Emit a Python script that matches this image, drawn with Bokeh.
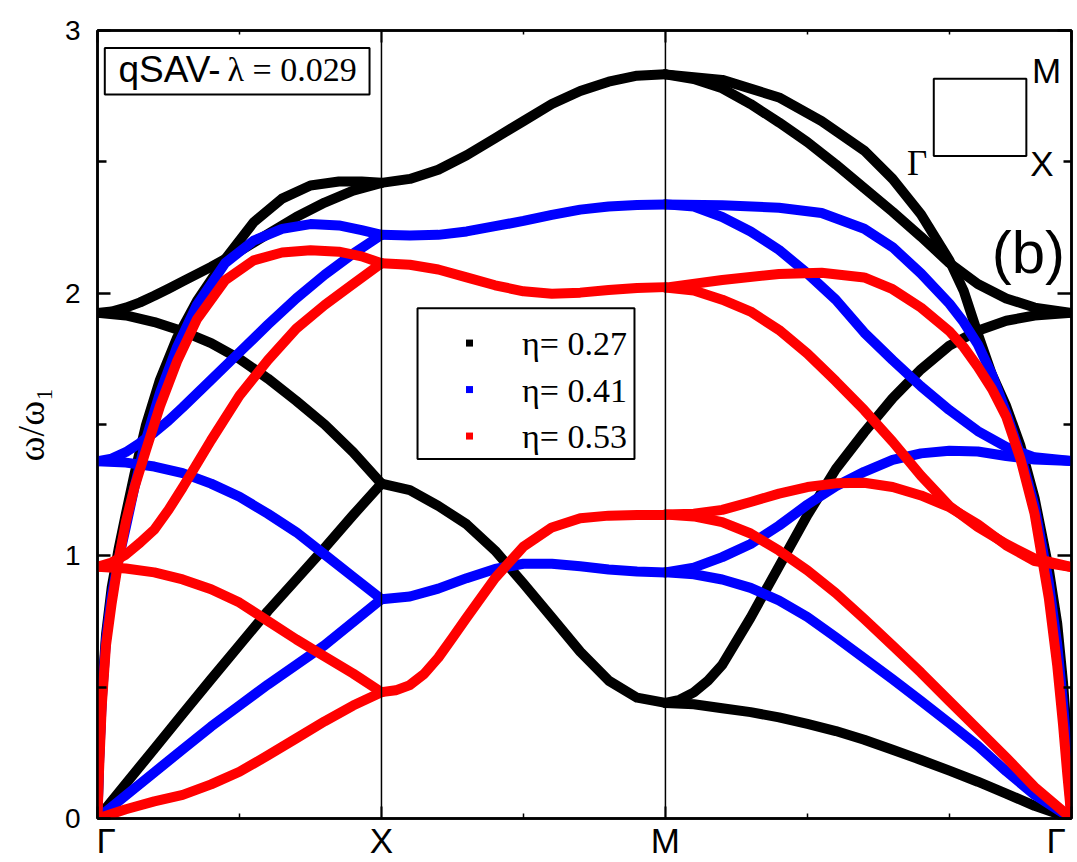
from bokeh.plotting import figure
from bokeh.models import FixedTicker, LinearAxis, Span, Label, Range1d
from bokeh.embed import file_html
from bokeh.resources import INLINE

# ---------------------------------------------------------------
# Path coordinate: Γ = 0, X = 1, M = 2, back to Γ = 3.43
# ---------------------------------------------------------------
path_ticks = [0.0, 1.0, 2.0, 3.43]
path_labels = ["\u2002Γ", "X", "M", "Γ\u2004"]
y_ticks = [0, 1, 2, 3]

# sampling grids along each leg of the path
K_GX = [0.0, 0.1, 0.2, 0.3, 0.4, 0.5, 0.6, 0.7, 0.8, 0.9, 1.0]
K_GX_FINE = [0.0, 0.05, 0.1, 0.15, 0.2, 0.25, 0.3, 0.4, 0.5, 0.6, 0.7, 0.8, 0.9, 1.0]
K_XM = [1.0, 1.1, 1.2, 1.3, 1.4, 1.5, 1.6, 1.7, 1.8, 1.9, 2.0]
K_XM_FINE = [1.0, 1.05, 1.1, 1.15, 1.2, 1.25, 1.3, 1.4, 1.5, 1.6, 1.7, 1.8, 1.9, 2.0]
K_MG = [2.0, 2.1, 2.2, 2.3, 2.4, 2.5, 2.6, 2.7, 2.8, 2.9, 3.0, 3.1, 3.2, 3.3, 3.43]
K_MG_FINE = [2.0, 2.05, 2.1, 2.15, 2.2, 2.3, 2.4, 2.5, 2.6, 2.7, 2.8, 2.9, 3.0, 3.1,
             3.2, 3.3, 3.43]
K_GX_STEEP = [0.0, 0.005, 0.015, 0.03, 0.05, 0.075, 0.1, 0.13, 0.17, 0.22,
              0.28, 0.35, 0.45, 0.55, 0.65, 0.75, 0.85, 0.93, 1.0]
K_MG_STEEP = [2.0, 2.2, 2.4, 2.55, 2.7, 2.8, 2.9, 3.0, 3.05, 3.1, 3.15, 3.2,
              3.25, 3.3, 3.35, 3.38, 3.4, 3.415, 3.43]

# ---------------- eta = 0.27 (black) ----------------
bk_gx_lin = [0, 0.133, 0.265, 0.398, 0.53, 0.66, 0.79, 0.91, 1.03, 1.155, 1.275]
bk_gx_down = [1.925, 1.915, 1.89, 1.855, 1.81, 1.75, 1.675, 1.59, 1.50, 1.395, 1.275]
bk_gx_up = [1.925, 1.93, 1.945, 1.965, 1.99, 2.017, 2.045, 2.10, 2.16, 2.225, 2.29,
            2.345, 2.39, 2.42]
bk_gx_steep = [0, 0.22, 0.47, 0.70, 0.88, 1.03, 1.16, 1.31, 1.495, 1.67,
               1.83, 1.97, 2.13, 2.27, 2.36, 2.41, 2.425, 2.425, 2.42]
bk_xm_top = [2.42, 2.435, 2.47, 2.525, 2.59, 2.655, 2.72, 2.77, 2.805, 2.828, 2.833]
bk_xm_low = [1.275, 1.25, 1.19, 1.12, 1.02, 0.895, 0.765, 0.635, 0.525, 0.46, 0.44]
bk_mg_steep = [2.833, 2.812, 2.745, 2.655, 2.543, 2.435, 2.30, 2.125, 2.01, 1.845,
               1.69, 1.57, 1.42, 1.22, 0.95, 0.74, 0.52, 0.30, 0]
bk_mg_inner = [2.833, 2.815, 2.78, 2.72, 2.65, 2.575, 2.49, 2.40, 2.31, 2.215,
               2.115, 2.035, 1.98, 1.945, 1.925]
bk_mg_rise = [0.44, 0.452, 0.48, 0.525, 0.585, 0.765, 0.96, 1.155, 1.33, 1.47, 1.60,
              1.71, 1.80, 1.857, 1.895, 1.915, 1.925]
bk_mg_low = [0.44, 0.435, 0.42, 0.405, 0.385, 0.36, 0.333, 0.30, 0.262, 0.223,
             0.182, 0.14, 0.095, 0.048, 0]

# ---------------- eta = 0.41 (blue) ----------------
bl_gx_lin = [0, 0.088, 0.176, 0.263, 0.35, 0.43, 0.51, 0.585, 0.66, 0.748, 0.835]
bl_gx_down = [1.36, 1.355, 1.34, 1.315, 1.275, 1.225, 1.16, 1.09, 1.005, 0.92, 0.835]
bl_gx_up = [1.36, 1.37, 1.395, 1.43, 1.47, 1.515, 1.565, 1.67, 1.775, 1.88, 1.98,
            2.07, 2.15, 2.222]
bl_gx_steep = [0, 0.20, 0.45, 0.68, 0.85, 0.99, 1.11, 1.26, 1.44, 1.62,
               1.795, 1.955, 2.115, 2.20, 2.245, 2.263, 2.258, 2.24, 2.222]
bl_xm_top = [2.222, 2.22, 2.222, 2.235, 2.255, 2.275, 2.298, 2.318, 2.33, 2.336, 2.338]
bl_xm_low = [0.835, 0.845, 0.875, 0.915, 0.95, 0.97, 0.97, 0.96, 0.948, 0.94, 0.937]
bl_mg_steep = [2.338, 2.335, 2.325, 2.305, 2.245, 2.175, 2.075, 1.96, 1.89, 1.805,
               1.69, 1.545, 1.385, 1.19, 0.90, 0.66, 0.44, 0.24, 0]
bl_mg_down = [2.338, 2.33, 2.29, 2.235, 2.165, 2.075, 1.975, 1.85, 1.745, 1.645,
              1.555, 1.475, 1.415, 1.375, 1.361]
bl_mg_rise = [0.937, 0.955, 0.995, 1.045, 1.115, 1.195, 1.265, 1.32, 1.365, 1.39,
              1.40, 1.397, 1.38, 1.367, 1.361]
bl_mg_low = [0.937, 0.93, 0.91, 0.878, 0.83, 0.767, 0.69, 0.61, 0.53, 0.447,
             0.363, 0.277, 0.18, 0.09, 0]

# ---------------- eta = 0.53 (red) ----------------
rd_gx_lin = [0, 0.035, 0.065, 0.09, 0.13, 0.178, 0.24, 0.305, 0.37, 0.43, 0.481]
rd_gx_down = [0.958, 0.952, 0.937, 0.91, 0.873, 0.822, 0.752, 0.682, 0.617, 0.552, 0.481]
rd_gx_up = [0.958, 0.975, 1.005, 1.05, 1.10, 1.175, 1.26, 1.44, 1.61, 1.745, 1.865,
            1.955, 2.035, 2.114]
rd_gx_steep = [0, 0.17, 0.43, 0.66, 0.82, 0.99, 1.13, 1.26, 1.40, 1.57,
               1.74, 1.90, 2.05, 2.125, 2.155, 2.163, 2.158, 2.14, 2.114]
rd_xm_top = [2.114, 2.108, 2.09, 2.06, 2.03, 2.007, 1.998, 2.002, 2.012, 2.02, 2.023]
rd_xm_low = [0.481, 0.488, 0.508, 0.55, 0.612, 0.688, 0.765, 0.915, 1.035, 1.108,
             1.143, 1.153, 1.155, 1.155]
rd_mg_steep = [2.021, 2.05, 2.073, 2.078, 2.06, 2.015, 1.945, 1.855, 1.795, 1.72,
               1.635, 1.53, 1.37, 1.16, 0.84, 0.58, 0.36, 0.17, 0]
rd_mg_down = [2.021, 2.01, 1.975, 1.93, 1.86, 1.77, 1.665, 1.555, 1.435, 1.305,
              1.19, 1.11, 1.045, 0.99, 0.957]
rd_mg_hump = [1.157, 1.16, 1.175, 1.205, 1.237, 1.262, 1.276, 1.278, 1.262, 1.23,
              1.185, 1.12, 1.04, 0.98, 0.957]
rd_mg_low = [1.157, 1.15, 1.128, 1.085, 1.02, 0.945, 0.858, 0.76, 0.658, 0.555,
             0.447, 0.34, 0.232, 0.12, 0]

eta_labels = ["η= 0.27", "η= 0.41", "η= 0.53"]
eta_colors = ["#000000", "#0000ff", "#ff0000"]

bands = [
    [(K_GX, bk_gx_lin), (K_GX, bk_gx_down), (K_GX_FINE, bk_gx_up), (K_GX_STEEP, bk_gx_steep),
     (K_XM, bk_xm_top), (K_XM, bk_xm_low),
     (K_MG_STEEP, bk_mg_steep), (K_MG, bk_mg_inner), (K_MG_FINE, bk_mg_rise), (K_MG, bk_mg_low)],
    [(K_GX, bl_gx_lin), (K_GX, bl_gx_down), (K_GX_FINE, bl_gx_up), (K_GX_STEEP, bl_gx_steep),
     (K_XM, bl_xm_top), (K_XM, bl_xm_low),
     (K_MG_STEEP, bl_mg_steep), (K_MG, bl_mg_down), (K_MG, bl_mg_rise), (K_MG, bl_mg_low)],
    [(K_GX, rd_gx_lin), (K_GX, rd_gx_down), (K_GX_FINE, rd_gx_up), (K_GX_STEEP, rd_gx_steep),
     (K_XM, rd_xm_top), (K_XM_FINE, rd_xm_low),
     (K_MG_STEEP, rd_mg_steep), (K_MG, rd_mg_down), (K_MG, rd_mg_hump), (K_MG, rd_mg_low)],
]

SANS = "Liberation Sans"
SERIF = "Liberation Serif"


def hide_labels(ax):
    ax.major_label_text_font_size = "0px"
    ax.major_label_text_color = None
    ax.major_label_standoff = 0


p = figure(width=1077, height=862, output_backend="svg", toolbar_location=None,
           x_range=Range1d(0, path_ticks[-1]), y_range=Range1d(0, 3),
           min_border_left=97, min_border_right=6, min_border_top=30, min_border_bottom=42)
p.background_fill_color = "white"
p.border_fill_color = "white"
p.grid.visible = False
p.outline_line_color = "black"
p.outline_line_width = 2.5

# bottom axis with the high-symmetry point symbols
xa = p.xaxis[0]
xa.ticker = FixedTicker(ticks=path_ticks, minor_ticks=[0.5, 1.5, 2.5, 3.0])
xa.major_label_overrides = {t: s for t, s in zip(path_ticks, path_labels)}
xa.major_label_text_font = SANS
xa.major_label_text_font_size = "35px"
xa.major_label_text_color = "black"
xa.major_label_standoff = 2
xa.axis_line_width = 2.5
xa.major_tick_in = 12
xa.major_tick_out = 0
xa.minor_tick_in = 5
xa.minor_tick_out = 0
xa.major_tick_line_width = 2
xa.minor_tick_line_width = 1.5

ya = p.yaxis[0]
ya.ticker = FixedTicker(ticks=y_ticks, minor_ticks=[0.5, 1.5, 2.5])
ya.axis_line_width = 2.5
ya.major_tick_in = 13
ya.major_tick_out = 0
ya.minor_tick_in = 9
ya.minor_tick_out = 0
ya.major_tick_line_width = 2.5
ya.minor_tick_line_width = 2.5
ya.major_label_text_font = SANS
ya.major_label_text_font_size = "28px"
ya.major_label_text_color = "black"
ya.major_label_standoff = 17
ya.axis_label = "ω/ω₁"
ya.axis_label_text_font = SERIF
ya.axis_label_text_font_size = "38px"
ya.axis_label_text_font_style = "normal"
ya.axis_label_text_color = "black"
ya.axis_label_standoff = 10

top_ax = LinearAxis(ticker=FixedTicker(ticks=path_ticks, minor_ticks=[0.5, 1.5, 2.5, 3.0]),
                    axis_line_width=2.5, major_tick_in=12, major_tick_out=0,
                    minor_tick_in=4, minor_tick_out=0, major_tick_line_width=2,
                    minor_tick_line_width=1.5)
hide_labels(top_ax)
p.add_layout(top_ax, "above")
right_ax = LinearAxis(ticker=FixedTicker(ticks=y_ticks, minor_ticks=[0.5, 1.5, 2.5]),
                      axis_line_width=2.5, major_tick_in=14, major_tick_out=0,
                      minor_tick_in=8, minor_tick_out=0, major_tick_line_width=2.5,
                      minor_tick_line_width=2.5)
hide_labels(right_ax)
p.add_layout(right_ax, "right")

# high-symmetry verticals
for loc in path_ticks[1:3]:
    p.add_layout(Span(location=loc, dimension="height", line_color="black", line_width=1.5))

# dispersion curves
for color, group in zip(eta_colors, bands):
    for ks, ws in group:
        p.line(ks, ws, line_color=color, line_width=10, line_join="round", line_cap="round")

# legend frame and entries
p.quad(left=[1.127], right=[1.891], bottom=[1.369], top=[1.943],
       fill_color="white", line_color="black", line_width=2)
legend_y = [1.81, 1.633, 1.456]
legend_base = [1.807, 1.630, 1.453]
p.scatter([1.31] * 3, legend_y, marker="square", size=7, color=eta_colors, line_width=0)
for txt, yb in zip(eta_labels, legend_base):
    p.add_layout(Label(x=1.495, y=yb, text=txt, text_font=SERIF, text_font_size="34px",
                       text_color="black", text_baseline="alphabetic"))

# parameter box
p.quad(left=[0.0257], right=[0.958], bottom=[2.756], top=[2.933],
       fill_color="white", line_color="black", line_width=2)
p.add_layout(Label(x=0.074, y=2.85, text="qSAV-", text_font=SANS, text_font_size="37px",
                   text_color="black", text_baseline="alphabetic"))
p.add_layout(Label(x=0.458, y=2.85, text="λ = 0.029", text_font=SERIF, text_font_size="34px",
                   text_color="black", text_baseline="alphabetic"))

# Brillouin-zone inset
p.quad(left=[2.945], right=[3.271], bottom=[2.522], top=[2.816],
       fill_alpha=0, line_color="black", line_width=2)
p.add_layout(Label(x=3.342, y=2.847, text="M", text_font=SANS, text_font_size="35px",
                   text_align="center", text_baseline="alphabetic", text_color="black"))
p.add_layout(Label(x=3.326, y=2.492, text="X", text_font=SANS, text_font_size="35px",
                   text_align="center", text_baseline="alphabetic", text_color="black"))
p.add_layout(Label(x=2.886, y=2.492, text="Γ", text_font=SERIF, text_font_size="35px",
                   text_align="center", text_baseline="alphabetic", text_color="black"))
p.add_layout(Label(x=3.278, y=2.155, text="(b)", text_font=SANS, text_font_size="60px",
                   text_align="center", text_baseline="alphabetic", text_color="black"))

open("out.html", "w").write(file_html(p, INLINE))
